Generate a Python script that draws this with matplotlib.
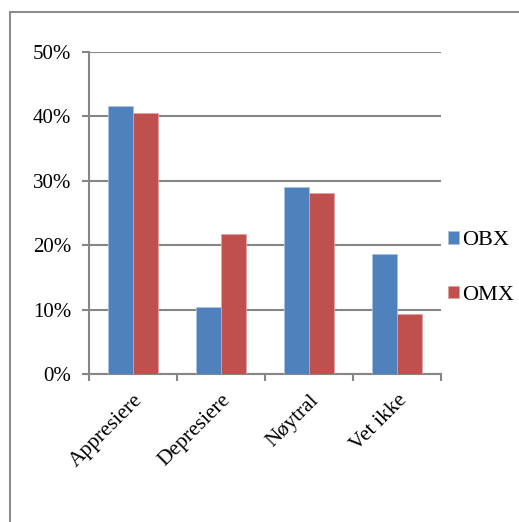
import numpy as np
import matplotlib
matplotlib.use("Agg")
import matplotlib.pyplot as plt
from matplotlib.patches import Rectangle
from matplotlib.ticker import PercentFormatter

categories = ["Appresiere", "Depresiere", "Nøytral", "Vet ikke"]
obx = [41.6, 10.4, 29.0, 18.6]
omx = [40.5, 21.7, 28.1, 9.3]
series_names = ["OBX", "OMX"]

plt.rcParams['font.family'] = ['Liberation Serif', 'DejaVu Serif']

fig = plt.figure(figsize=(5.19, 5.22), dpi=100)
ax = fig.add_axes([89/519, 1-374/522, (441-89)/519, (374-52)/522])

# outer frame (runs off right/bottom edge like the screenshot)
fig.patches.append(Rectangle((10/519, -0.1), 1.2, 1-12/522+0.1, transform=fig.transFigure,
                             fill=False, edgecolor="#8c8c8c", linewidth=1.5))

x = np.arange(len(categories))
w = 0.285
ax.bar(x - w/2, obx, w, color="#4F81BD", edgecolor="#a9c1e0", linewidth=0.6, label=series_names[0], zorder=3)
ax.bar(x + w/2, omx, w, color="#C0504D", edgecolor="#e0a3a1", linewidth=0.6, label=series_names[1], zorder=3)

ax.set_xlim(-0.5, 3.5)
ax.set_ylim(0, 50)
ax.set_yticks(np.arange(0, 51, 10))
ax.yaxis.set_major_formatter(PercentFormatter(decimals=0))
ax.grid(axis="y", color="#868686", linewidth=1.5, zorder=0)

for s in ["top", "right"]:
    ax.spines[s].set_visible(False)
for s in ["left", "bottom"]:
    ax.spines[s].set_color("#868686")
    ax.spines[s].set_linewidth(1.5)

ax.set_xticks(np.arange(-0.5, 3.6, 1))
ax.set_xticklabels([])
ax.set_xticks(x, minor=True)
ax.set_xticklabels(categories, minor=True, rotation=45, ha="right", rotation_mode="anchor")
ax.tick_params(axis="x", which="minor", length=0, pad=12, labelsize=15.5)
ax.tick_params(axis="x", which="major", length=5, width=1.5, color="#868686")
ax.tick_params(axis="y", length=5, width=1.5, color="#868686", labelsize=15, pad=8)

ax.legend(loc="center left", bbox_to_anchor=(439/519, 1-268/522), bbox_transform=fig.transFigure,
          frameon=False, fontsize=16, handlelength=0.5, handleheight=0.5, handletextpad=0.15,
          labelspacing=1.6, borderaxespad=0)

fig.savefig("out.png", dpi=100)
